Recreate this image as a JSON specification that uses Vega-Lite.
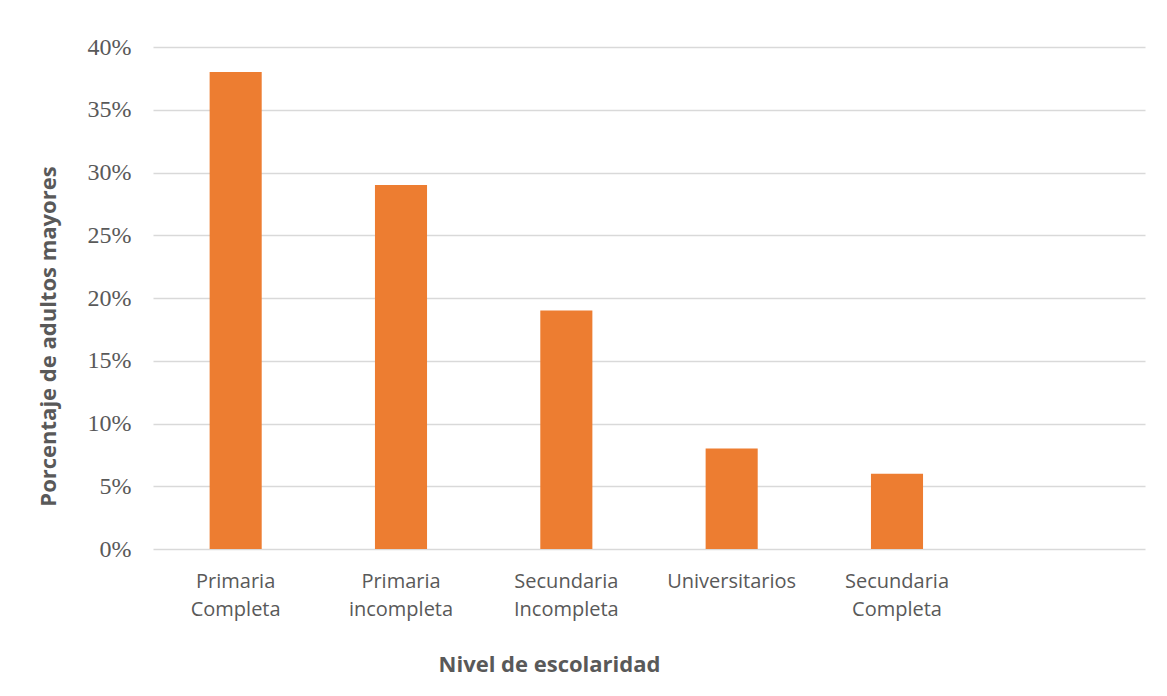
{
  "$schema": "https://vega.github.io/schema/vega-lite/v6.json",
  "autosize": "none",
  "width": 992,
  "height": 502,
  "padding": {"left": 153, "top": 47, "right": 22, "bottom": 147},
  "background": "white",
  "config": {
    "view": {"stroke": null},
    "axis": {"domain": false, "ticks": false, "labelColor": "#595959", "titleColor": "#595959"}
  },
  "data": {
    "values": [
      {"nivel": "Primaria Completa", "porcentaje": 0.38},
      {"nivel": "Primaria incompleta", "porcentaje": 0.29},
      {"nivel": "Secundaria Incompleta", "porcentaje": 0.19},
      {"nivel": "Universitarios", "porcentaje": 0.08},
      {"nivel": "Secundaria Completa", "porcentaje": 0.06}
    ]
  },
  "mark": {"type": "bar", "color": "#ED7D31"},
  "encoding": {
    "x": {
      "field": "nivel",
      "type": "nominal",
      "sort": null,
      "scale": {
        "domain": ["Primaria Completa", "Primaria incompleta", "Secundaria Incompleta", "Universitarios", "Secundaria Completa", " "],
        "paddingInner": 0.685,
        "paddingOuter": 0.3425
      },
      "axis": {
        "title": "Nivel de escolaridad",
        "labelAngle": 0,
        "labelExpr": "split(datum.label, ' ')",
        "labelFont": "Open Sans",
        "labelFontSize": 20,
        "labelLineHeight": 28,
        "labelPadding": 22,
        "labelBaseline": "top",
        "titleFont": "Open Sans",
        "titleFontSize": 22,
        "titleFontWeight": "bold",
        "titleX": 396,
        "titleY": 122,
        "titleAlign": "center",
        "titleBaseline": "alphabetic"
      }
    },
    "y": {
      "field": "porcentaje",
      "type": "quantitative",
      "scale": {"domain": [0, 0.4]},
      "axis": {
        "title": "Porcentaje de adultos mayores",
        "format": ".0%",
        "values": [0, 0.05, 0.1, 0.15, 0.2, 0.25, 0.3, 0.35, 0.4],
        "grid": true,
        "gridColor": "#D9D9D9",
        "gridWidth": 1.3,
        "labelFont": "Liberation Serif",
        "labelFontSize": 24,
        "labelPadding": 22,
        "titleFont": "Open Sans",
        "titleFontSize": 22,
        "titleFontWeight": "bold",
        "titleX": -105,
        "titleY": 289,
        "titleAlign": "center",
        "titleBaseline": "middle",
        "titleAngle": -90
      }
    }
  }
}
